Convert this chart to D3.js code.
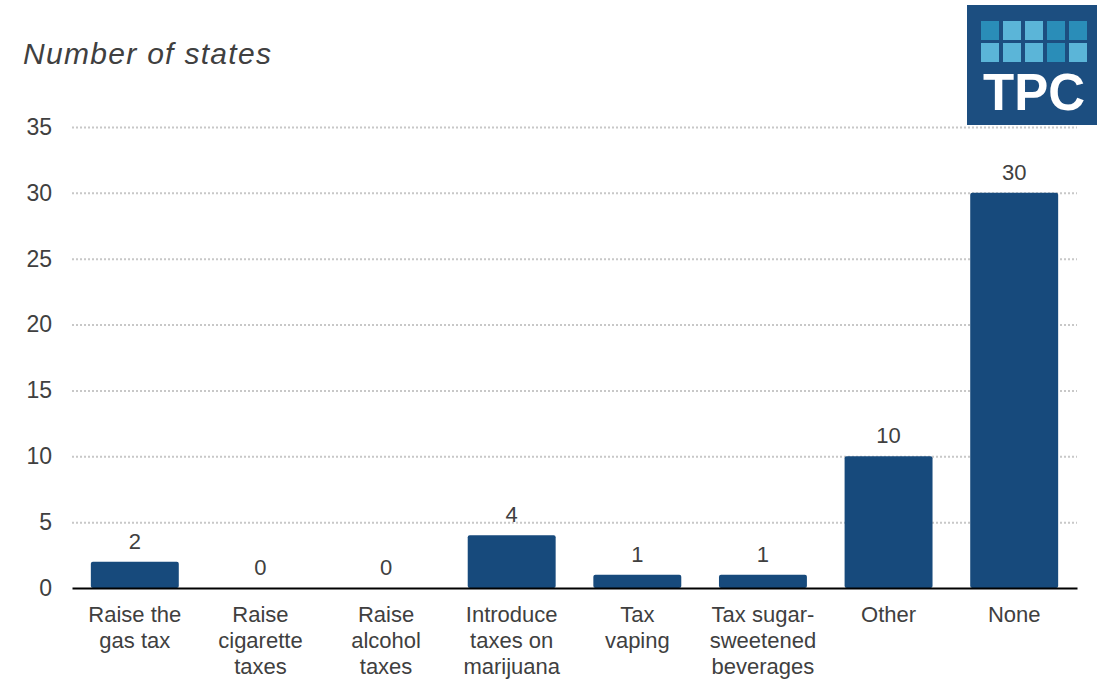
<!DOCTYPE html>
<html><head><meta charset="utf-8">
<script src="https://cdn.jsdelivr.net/npm/d3@7"></script>
<style>body{margin:0;background:#fff;}svg{display:block;font-family:"Liberation Sans",Arial,sans-serif;}</style>
</head><body>
<svg id="c" width="1104" height="681"></svg>
<script>
const categories = [
  ["Raise the","gas tax"],
  ["Raise","cigarette","taxes"],
  ["Raise","alcohol","taxes"],
  ["Introduce","taxes on","marijuana"],
  ["Tax","vaping"],
  ["Tax sugar-","sweetened","beverages"],
  ["Other"],
  ["None"]
];
const values = [2, 0, 0, 4, 1, 1, 10, 30];
const yTicks = [0, 5, 10, 15, 20, 25, 30, 35];
const title = "Number of states";

(function(){
const svg = d3.select("#c");
const mL = 72, mR = 1077, mT = 127, mB = 588;
const keys = categories.map((d,i)=>i);
const x = d3.scaleBand().domain(keys).range([mL,mR]).paddingInner(0.3).paddingOuter(0.15);
const y = d3.scaleLinear().domain([0,35]).range([mB,mT]);

// gridlines
svg.append("g").selectAll("line").data(yTicks.filter(t=>t>0)).join("line")
  .attr("x1",mL).attr("x2",mR)
  .attr("y1",d=>y(d)+0.5).attr("y2",d=>y(d)+0.5)
  .attr("stroke","#c8c8c8").attr("stroke-width",2).attr("stroke-dasharray","2,2");

// y axis
const ya = svg.append("g").attr("transform",`translate(${mL},0)`)
  .call(d3.axisLeft(y).tickValues(yTicks).tickSize(0).tickPadding(20));
ya.select(".domain").remove();
ya.selectAll("text").attr("font-size",23).attr("fill","#404040").attr("font-family","Liberation Sans, Arial, sans-serif");

// bars
svg.append("g").selectAll("rect").data(values).join("rect")
  .attr("x",(d,i)=>x(i)).attr("width",x.bandwidth())
  .attr("y",d=>y(d)).attr("height",d=>y(0)-y(d))
  .attr("rx",2).attr("fill","#174A7C");

// value labels
svg.append("g").selectAll("text").data(values).join("text")
  .attr("x",(d,i)=>x(i)+x.bandwidth()/2).attr("y",d=>y(d)-13)
  .attr("text-anchor","middle").attr("font-size",22).attr("fill","#404040")
  .text(d=>d);

// x axis
const xa = svg.append("g").attr("transform",`translate(0,${mB})`)
  .call(d3.axisBottom(x).tickSize(0).tickFormat(""));
xa.select(".domain").attr("stroke","#000").attr("stroke-width",2);
xa.selectAll(".tick").each(function(i){
  const t = d3.select(this).append("text").attr("fill","#404040").attr("font-size",22)
    .attr("text-anchor","middle").attr("y",34);
  categories[i].forEach((line,k)=>{
    t.append("tspan").attr("x",0).attr("dy",k===0?0:26).text(line);
  });
});

// title
svg.append("text").attr("x",23).attr("y",64).attr("font-size",30).attr("font-style","italic")
  .attr("letter-spacing",1.3).attr("fill","#404040").text(title);

// logo
const logo = svg.append("g");
logo.append("rect").attr("x",967).attr("y",5).attr("width",130).attr("height",120).attr("fill","#1C4E80");
const sq = [["#2A8DB8","#5BB5D8","#5BB5D8","#2A8DB8","#2A8DB8"],["#5BB5D8","#5BB5D8","#5BB5D8","#2A8DB8","#5BB5D8"]];
sq.forEach((row,r)=>row.forEach((c,k)=>{
  logo.append("rect").attr("x",981+k*22).attr("y",21+r*22).attr("width",18).attr("height",19).attr("fill",c);
}));
logo.append("text").attr("x",1034).attr("y",110).attr("text-anchor","middle").attr("font-size",51)
  .attr("font-weight","bold").attr("fill","#fff").attr("font-family","Liberation Sans, Arial, sans-serif").text("TPC");
})();
</script>
</body></html>
